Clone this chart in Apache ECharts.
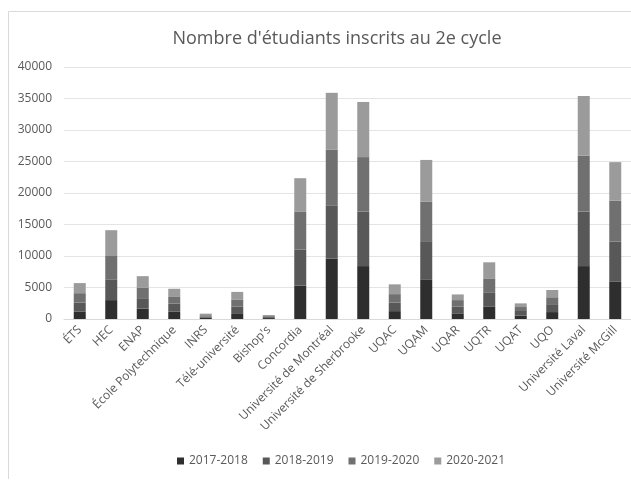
<!DOCTYPE html>
<html>
<head>
<meta charset="utf-8">
<script src="https://cdn.jsdelivr.net/npm/echarts@6/dist/echarts.min.js"></script>
<style>
  html, body { margin: 0; padding: 0; background: #fff; }
  #chart { width: 631px; height: 499px; }
</style>
</head>
<body>
<div id="chart"></div>
<script>
var categories = ['ÉTS', 'HEC', 'ENAP', 'École Polytechnique', 'INRS', 'Télé-université', "Bishop's",
  'Concordia', 'Université de Montréal', 'Université de Sherbrooke', 'UQAC', 'UQAM', 'UQAR',
  'UQTR', 'UQAT', 'UQO', 'Université Laval', 'Université McGill'];
var years = ['2017-2018', '2018-2019', '2019-2020', '2020-2021'];
var y2017 = [1200, 3000, 1650, 1150, 200, 800, 150, 5300, 9600, 8400, 1250, 6300, 900, 2000, 530, 1100, 8400, 5900];
var y2018 = [1400, 3300, 1650, 1300, 200, 1150, 150, 5700, 8450, 8650, 1350, 6050, 1050, 2150, 740, 1250, 8650, 6400];
var y2019 = [1500, 3700, 1700, 1050, 200, 1150, 150, 6000, 8800, 8650, 1350, 6250, 1050, 2300, 630, 1100, 8900, 6500];
var y2020 = [1600, 4100, 1800, 1300, 250, 1200, 180, 5350, 9050, 8750, 1550, 6650, 900, 2550, 580, 1150, 9450, 6100];
var colors = ['#2e2e2e', '#585858', '#707070', '#9b9b9b'];

var textColor = '#595959';
var font = '"Open Sans", "DejaVu Sans", sans-serif';

var chart = echarts.init(document.getElementById('chart'));
var values = [y2017, y2018, y2019, y2020];
var series = years.map(function (y, i) {
  return {
    name: y,
    type: 'bar',
    stack: 'total',
    data: values[i],
    barWidth: 12,
    itemStyle: { color: colors[i] }
  };
});

chart.setOption({
  animation: false,
  title: {
    text: "Nombre d'étudiants inscrits au 2e cycle",
    left: 332,
    textAlign: 'center',
    top: 25,
    textStyle: { color: textColor, fontFamily: font, fontSize: 18, fontWeight: 'normal' }
  },
  legend: {
    data: years,
    bottom: 27,
    left: 172,
    itemWidth: 7,
    itemHeight: 7,
    itemGap: 15,
    icon: 'rect',
    textStyle: { color: textColor, fontFamily: font, fontSize: 12 }
  },
  grid: { left: 64, top: 67, width: 576, height: 252 },
  xAxis: {
    type: 'category',
    data: categories,
    axisTick: { show: false },
    axisLine: { lineStyle: { color: '#d9d9d9' } },
    axisLabel: { rotate: 45, interval: 0, color: textColor, fontFamily: font, fontSize: 12, margin: 9 }
  },
  yAxis: {
    type: 'value',
    min: 0,
    max: 40000,
    interval: 5000,
    axisLine: { show: false },
    axisTick: { show: false },
    splitLine: { lineStyle: { color: '#e4e4e4' } },
    axisLabel: {
      color: textColor, fontFamily: font, fontSize: 12, margin: 12,
      formatter: function (v) { return String(v); }
    }
  },
  // bordure du graphique (haut + gauche seulement, le reste est rogné)
  graphic: [{
    type: 'polyline',
    shape: { points: [[8.5, 479], [8.5, 11.5], [640, 11.5]] },
    style: { fill: 'none', stroke: '#d9d9d9', lineWidth: 1 },
    silent: true,
    z: -1
  }],
  series: series
});
</script>
</body>
</html>
